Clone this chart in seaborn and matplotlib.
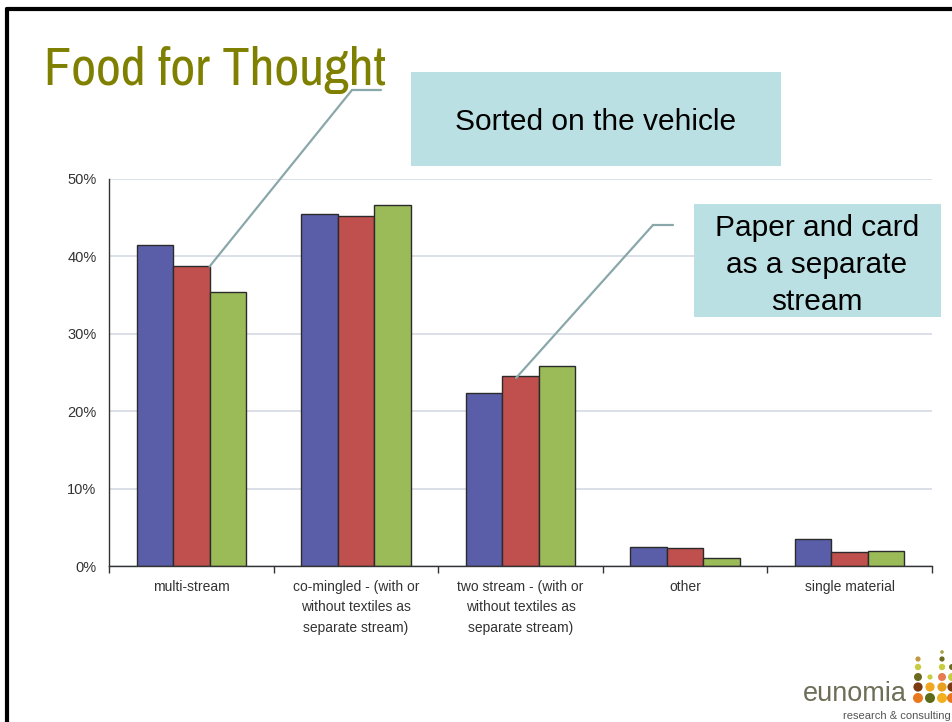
import numpy as np
import pandas as pd
import matplotlib
matplotlib.use("Agg")
import matplotlib.pyplot as plt
from matplotlib import font_manager
from matplotlib.patches import Rectangle, Circle
from matplotlib.lines import Line2D
import seaborn as sns

# ---- data ----
categories = [
    "multi-stream",
    "co-mingled - (with or\nwithout textiles as\nseparate stream)",
    "two stream - (with or\nwithout textiles as\nseparate stream)",
    "other",
    "single material",
]
series_names = ["Series 1", "Series 2", "Series 3"]
series_1 = [41.5, 45.5, 22.4, 2.5, 3.5]
series_2 = [38.7, 45.2, 24.6, 2.3, 1.8]
series_3 = [35.4, 46.6, 25.9, 1.0, 1.9]
y_ticks = [0, 10, 20, 30, 40, 50]
y_tick_labels = ["0%", "10%", "20%", "30%", "40%", "50%"]

palette = ["#5A5EA8", "#C0504D", "#9BBB59"]

df = pd.DataFrame({
    "category": categories * 3,
    "series": sum([[s] * len(categories) for s in series_names], []),
    "share": series_1 + series_2 + series_3,
})

sns.set_theme(style="white")
plt.rcParams["font.family"] = ["Liberation Sans", "DejaVu Sans"]

# prefer a condensed face for the heading when one is installed
available = sorted({f.name for f in font_manager.fontManager.ttflist})
condensed = [n for n in available if "Narrow" in n or "Condensed" in n or "Cond" in n]
title_family = condensed[0] if condensed else "Liberation Sans"

W, H = 953, 722
fig = plt.figure(figsize=(W / 100, H / 100), dpi=100)
fig.patch.set_facecolor("white")


def fx(px):
    return px / W


def fy(py):
    return 1 - py / H


ax = fig.add_axes([fx(109), fy(566), (932 - 109) / W, (566 - 179) / H])

sns.barplot(
    data=df, x="category", y="share", hue="series", order=categories,
    hue_order=series_names, palette=palette, width=0.665, gap=0,
    edgecolor="#2b2b2b", linewidth=1.0, saturation=1, legend=False, ax=ax,
)

ax.set_xlim(-0.5, len(categories) - 0.5)
ax.set_ylim(0, 50)
ax.set_yticks(y_ticks)
ax.set_yticklabels(y_tick_labels)
ax.set_xlabel("")
ax.set_ylabel("")
ax.yaxis.grid(True, color="#D3D9E4", linewidth=1.2)
ax.set_axisbelow(True)
for side in ("top", "right"):
    ax.spines[side].set_visible(False)
for side in ("left", "bottom"):
    ax.spines[side].set_color("#333333")
    ax.spines[side].set_linewidth(1.0)

# category boundary ticks on the x axis, labels centred under each group
ax.set_xticks(np.arange(len(categories)))
ax.set_xticklabels(categories, fontsize=10, color="#333333", linespacing=1.58)
ax.tick_params(axis="x", length=0, pad=10)
ax.set_xticks(np.arange(len(categories) + 1) - 0.5, minor=True)
ax.tick_params(axis="x", which="minor", length=5, width=1, color="#333333", direction="out")
ax.tick_params(axis="y", length=5, width=1, color="#333333", direction="out",
               labelsize=10.5, labelcolor="#333333", pad=4)
ax.tick_params(axis="x", which="major", bottom=False)
ax.xaxis.set_ticks_position("bottom")

# title, sized to span its heading area
title = fig.text(fx(44), fy(85), "Food for Thought", family=title_family, fontsize=32,
                 fontweight="bold", color="#7F7F00", ha="left", va="baseline")
renderer = fig.canvas.get_renderer()
tw = title.get_window_extent(renderer).width
title.set_fontsize(32 * 342 / tw)

# slide frame
fig.add_artist(Line2D([fx(7), 1], [fy(9), fy(9)], color="black", linewidth=3))
fig.add_artist(Line2D([fx(7), fx(7)], [fy(9), 0], color="black", linewidth=3))

# callout boxes
box_color = "#BBE0E3"
fig.add_artist(Rectangle((fx(411), fy(166)), (781 - 411) / W, (166 - 72) / H,
                         transform=fig.transFigure, facecolor=box_color, edgecolor="none"))
fig.text(fx(596), fy(122), "Sorted on the vehicle", fontsize=21.5, color="black",
         ha="center", va="center")
fig.add_artist(Rectangle((fx(694), fy(317)), (941 - 694) / W, (317 - 204) / H,
                         transform=fig.transFigure, facecolor=box_color, edgecolor="none"))
fig.text(fx(817), fy(265), "Paper and card\nas a separate\nstream", fontsize=21.5,
         color="black", ha="center", va="center", linespacing=1.4)

# leader lines from the callouts to the bars
line_color = "#8AA8AA"
bar_a = ax.containers[1][0]  # series 2, multi-stream
bar_b = ax.containers[1][2]  # series 2, two stream
ax.annotate("", xy=(bar_a.get_x() + bar_a.get_width(), bar_a.get_height()),
            xycoords="data", xytext=(fx(352), fy(90)), textcoords="figure fraction",
            arrowprops=dict(arrowstyle="-", color=line_color, lw=1.6, shrinkA=0, shrinkB=0),
            annotation_clip=False)
fig.add_artist(Line2D([fx(352), fx(381)], [fy(90), fy(90)], color=line_color, linewidth=1.6))
ax.annotate("", xy=(bar_b.get_x() + 0.38 * bar_b.get_width(), bar_b.get_height() - 0.3),
            xycoords="data", xytext=(fx(653), fy(225)), textcoords="figure fraction",
            arrowprops=dict(arrowstyle="-", color=line_color, lw=1.6, shrinkA=0, shrinkB=0),
            annotation_clip=False)
fig.add_artist(Line2D([fx(653), fx(673)], [fy(225), fy(225)], color=line_color, linewidth=1.6))

# company logo
fig.text(fx(803), fy(694), "eunomia", fontsize=19.5, color="#6E6E58", ha="left",
         va="center", family="Liberation Sans")
fig.text(fx(843), fy(716), "research & consulting", fontsize=8, color="#555555",
         ha="left", va="center")
dots = [
    (918, 659, 2.6, "#C09A40"), (918, 667, 3.2, "#C8CC40"), (918, 677, 4.0, "#6B6A1E"),
    (918, 687, 4.6, "#7B3A10"), (918, 698, 5.0, "#E8781E"),
    (930, 677, 2.6, "#C8CC40"), (930, 687, 4.6, "#F0A820"), (930, 698, 5.0, "#5D6A18"),
    (942, 652, 1.8, "#A8A040"), (942, 659, 2.6, "#6B6A1E"), (942, 667, 3.2, "#C8CC40"),
    (942, 677, 4.0, "#E87A50"), (942, 687, 4.6, "#E8A020"), (942, 698, 5.0, "#F0B020"),
    (952, 667, 3.0, "#6B6A1E"), (952, 677, 4.0, "#C8CC40"), (952, 687, 4.6, "#7B3A10"),
    (952, 698, 5.0, "#E8781E"),
]
for px, py, r, c in dots:
    fig.add_artist(Circle((px, H - py), r, transform=None, facecolor=c, edgecolor="none"))

fig.savefig("out.png", dpi=100)
